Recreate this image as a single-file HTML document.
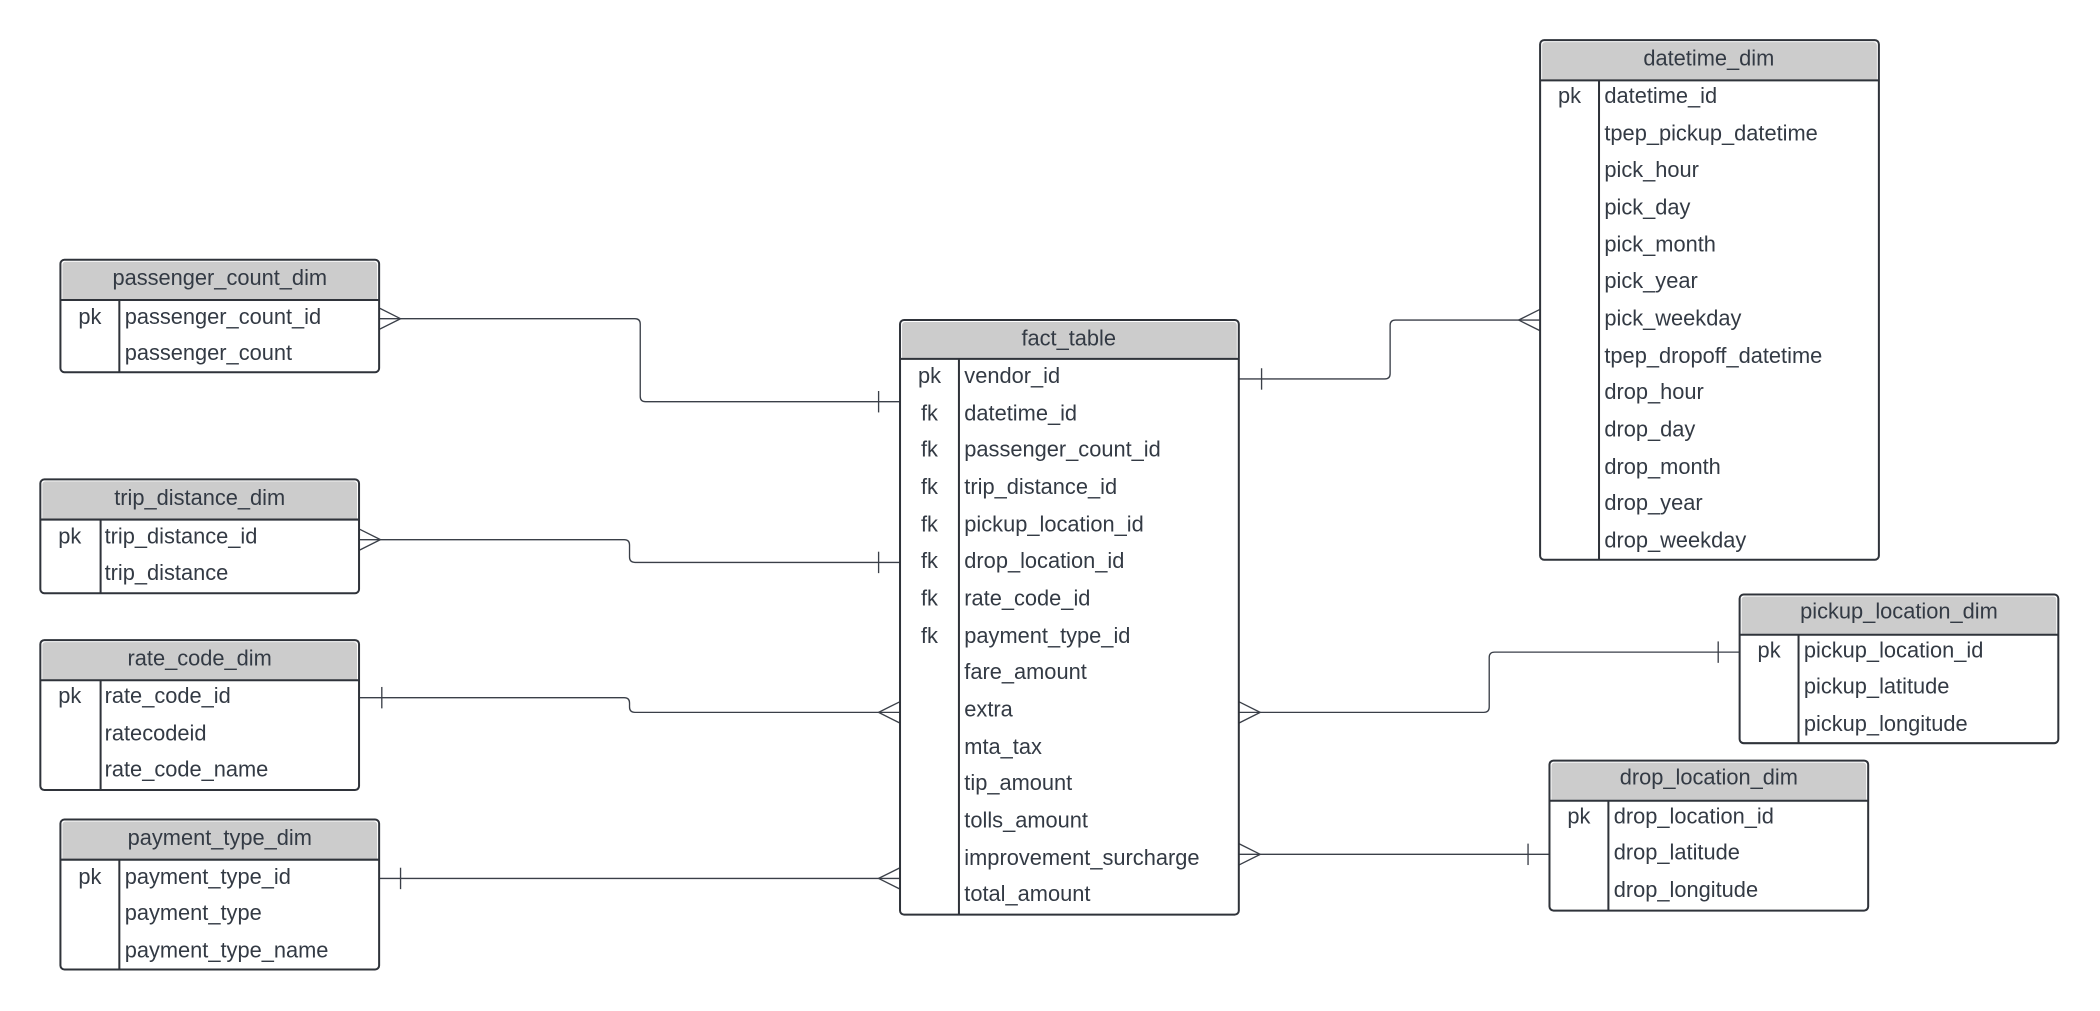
<!DOCTYPE html>
<html><head><meta charset="utf-8"><style>
html,body{margin:0;padding:0;background:#fff;}
svg{display:block;}
text{font-family:"Liberation Sans",Arial,sans-serif;font-size:16.3px;fill:#333a44;}
</style></head><body>
<svg width="2100" height="1011" viewBox="0 0 1568 755" xmlns="http://www.w3.org/2000/svg">
<g fill="none" stroke="#3a3f48" stroke-width="1">
<path d="M283 238 H474 Q478 238 478 242 V296 Q478 300 482 300 H672"/>
<path d="M283 230 L299 238 L283 246"/><path d="M656 292 V308"/>
<path d="M268 403 H466 Q470 403 470 407 V416 Q470 420 474 420 H672"/>
<path d="M268 395 L284 403 L268 411"/><path d="M656 412 V428"/>
<path d="M268 521 H466 Q470 521 470 525 V528 Q470 532 474 532 H672"/>
<path d="M285 513 V529"/><path d="M672 524 L656 532 L672 540"/>
<path d="M283 656 H672"/>
<path d="M299 648 V664"/><path d="M672 648 L656 656 L672 664"/>
<path d="M925 283 H1034 Q1038 283 1038 279 V243 Q1038 239 1042 239 H1150"/>
<path d="M942 275 V291"/><path d="M1150 231 L1134 239 L1150 247"/>
<path d="M925 532 H1108 Q1112 532 1112 528 V491 Q1112 487 1116 487 H1299"/>
<path d="M925 524 L941 532 L925 540"/><path d="M1283 479 V495"/>
<path d="M925 638 H1157"/>
<path d="M925 630 L941 638 L925 646"/><path d="M1141 630 V646"/>
</g>

<g stroke="#2f333a" stroke-width="1.5">
<rect x="45" y="194" width="238" height="84" rx="3" fill="#fff"/>
<path d="M46.5 224 V198 Q46.5 195.5 49 195.5 H279 Q281.5 195.5 281.5 198 V224 Z" fill="#cccccc" stroke="none"/>
<path d="M45 224 H283 M89 224 V278" fill="none"/>

<rect x="30" y="358" width="238" height="85" rx="3" fill="#fff"/>
<path d="M31.5 388 V362 Q31.5 359.5 34 359.5 H264 Q266.5 359.5 266.5 362 V388 Z" fill="#cccccc" stroke="none"/>
<path d="M30 388 H268 M75 388 V443" fill="none"/>

<rect x="30" y="478" width="238" height="112" rx="3" fill="#fff"/>
<path d="M31.5 508 V482 Q31.5 479.5 34 479.5 H264 Q266.5 479.5 266.5 482 V508 Z" fill="#cccccc" stroke="none"/>
<path d="M30 508 H268 M75 508 V590" fill="none"/>

<rect x="45" y="612" width="238" height="112" rx="3" fill="#fff"/>
<path d="M46.5 642 V616 Q46.5 613.5 49 613.5 H279 Q281.5 613.5 281.5 616 V642 Z" fill="#cccccc" stroke="none"/>
<path d="M45 642 H283 M89 642 V724" fill="none"/>

<rect x="672" y="239" width="253" height="444" rx="3" fill="#fff"/>
<path d="M673.5 268 V243 Q673.5 240.5 676 240.5 H921 Q923.5 240.5 923.5 243 V268 Z" fill="#cccccc" stroke="none"/>
<path d="M672 268 H925 M716 268 V683" fill="none"/>

<rect x="1150" y="30" width="253" height="388" rx="3" fill="#fff"/>
<path d="M1151.5 60 V34 Q1151.5 31.5 1154 31.5 H1399 Q1401.5 31.5 1401.5 34 V60 Z" fill="#cccccc" stroke="none"/>
<path d="M1150 60 H1403 M1194 60 V418" fill="none"/>

<rect x="1299" y="444" width="238" height="111" rx="3" fill="#fff"/>
<path d="M1300.5 474 V448 Q1300.5 445.5 1303 445.5 H1533 Q1535.5 445.5 1535.5 448 V474 Z" fill="#cccccc" stroke="none"/>
<path d="M1299 474 H1537 M1343 474 V555" fill="none"/>

<rect x="1157" y="568" width="238" height="112" rx="3" fill="#fff"/>
<path d="M1158.5 598 V572 Q1158.5 569.5 1161 569.5 H1391 Q1393.5 569.5 1393.5 572 V598 Z" fill="#cccccc" stroke="none"/>
<path d="M1157 598 H1395 M1201 598 V680" fill="none"/>
</g>

<g>
<text x="164" y="213" text-anchor="middle">passenger_count_dim</text>
<text x="67" y="242" text-anchor="middle">pk</text>
<text x="93" y="242">passenger_count_id</text>
<text x="93" y="269">passenger_count</text>

<text x="149" y="377" text-anchor="middle">trip_distance_dim</text>
<text x="52" y="406" text-anchor="middle">pk</text>
<text x="78" y="406">trip_distance_id</text>
<text x="78" y="433">trip_distance</text>

<text x="149" y="497" text-anchor="middle">rate_code_dim</text>
<text x="52" y="525" text-anchor="middle">pk</text>
<text x="78" y="525">rate_code_id</text>
<text x="78" y="553">ratecodeid</text>
<text x="78" y="580">rate_code_name</text>

<text x="164" y="631" text-anchor="middle">payment_type_dim</text>
<text x="67" y="660" text-anchor="middle">pk</text>
<text x="93" y="660">payment_type_id</text>
<text x="93" y="687">payment_type</text>
<text x="93" y="715">payment_type_name</text>

<text x="798" y="258" text-anchor="middle">fact_table</text>
<text x="694" y="286" text-anchor="middle">pk</text>
<text x="694" y="314" text-anchor="middle">fk</text>
<text x="694" y="341" text-anchor="middle">fk</text>
<text x="694" y="369" text-anchor="middle">fk</text>
<text x="694" y="397" text-anchor="middle">fk</text>
<text x="694" y="424" text-anchor="middle">fk</text>
<text x="694" y="452" text-anchor="middle">fk</text>
<text x="694" y="480" text-anchor="middle">fk</text>
<text x="720" y="286">vendor_id</text>
<text x="720" y="314">datetime_id</text>
<text x="720" y="341">passenger_count_id</text>
<text x="720" y="369">trip_distance_id</text>
<text x="720" y="397">pickup_location_id</text>
<text x="720" y="424">drop_location_id</text>
<text x="720" y="452">rate_code_id</text>
<text x="720" y="480">payment_type_id</text>
<text x="720" y="507">fare_amount</text>
<text x="720" y="535">extra</text>
<text x="720" y="563">mta_tax</text>
<text x="720" y="590">tip_amount</text>
<text x="720" y="618">tolls_amount</text>
<text x="720" y="646">improvement_surcharge</text>
<text x="720" y="673">total_amount</text>

<text x="1276" y="49" text-anchor="middle">datetime_dim</text>
<text x="1172" y="77" text-anchor="middle">pk</text>
<text x="1198" y="77">datetime_id</text>
<text x="1198" y="105">tpep_pickup_datetime</text>
<text x="1198" y="132">pick_hour</text>
<text x="1198" y="160">pick_day</text>
<text x="1198" y="188">pick_month</text>
<text x="1198" y="215">pick_year</text>
<text x="1198" y="243">pick_weekday</text>
<text x="1198" y="271">tpep_dropoff_datetime</text>
<text x="1198" y="298">drop_hour</text>
<text x="1198" y="326">drop_day</text>
<text x="1198" y="354">drop_month</text>
<text x="1198" y="381">drop_year</text>
<text x="1198" y="409">drop_weekday</text>

<text x="1418" y="462" text-anchor="middle">pickup_location_dim</text>
<text x="1321" y="491" text-anchor="middle">pk</text>
<text x="1347" y="491">pickup_location_id</text>
<text x="1347" y="518">pickup_latitude</text>
<text x="1347" y="546">pickup_longitude</text>

<text x="1276" y="586" text-anchor="middle">drop_location_dim</text>
<text x="1179" y="615" text-anchor="middle">pk</text>
<text x="1205" y="615">drop_location_id</text>
<text x="1205" y="642">drop_latitude</text>
<text x="1205" y="670">drop_longitude</text>
</g>
</svg>
</body></html>
